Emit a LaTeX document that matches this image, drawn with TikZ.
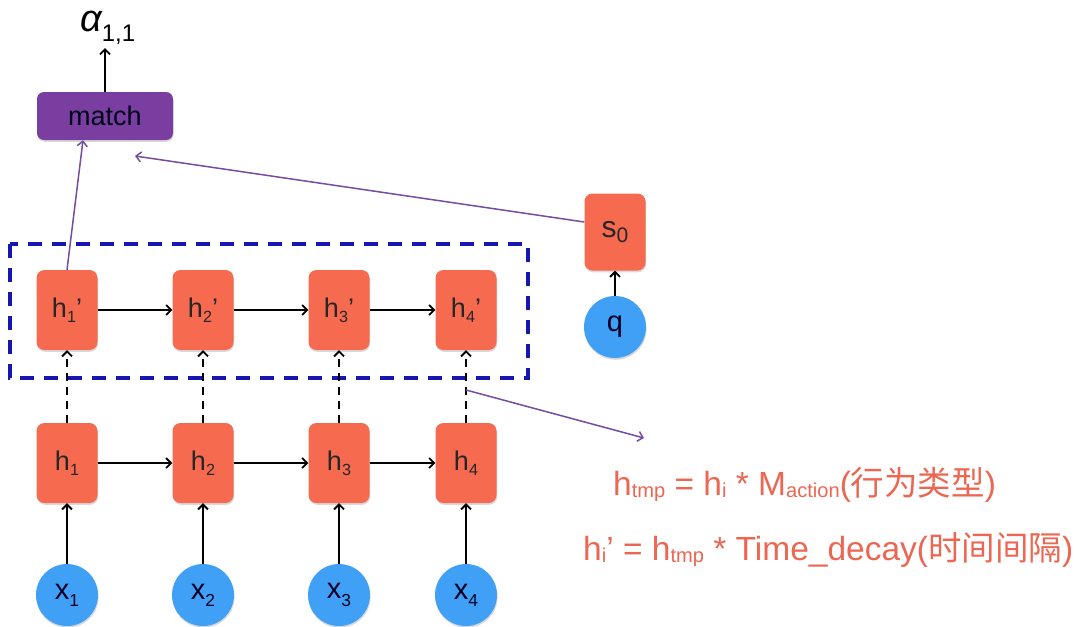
\documentclass[tikz,border=0pt]{standalone}
\usepackage{fontspec}
\usepackage{graphicx}
\setmainfont{Liberation Sans}
\newfontfamily\cjk{Noto Sans CJK SC}
\usetikzlibrary{arrows.meta,shadows}

\definecolor{cellred}{RGB}{246,106,80}
\definecolor{inblue}{RGB}{64,160,246}
\definecolor{matchpurple}{RGB}{122,62,160}
\definecolor{linkpurple}{RGB}{118,76,160}
\definecolor{boxblue}{RGB}{22,22,176}
\definecolor{eqred}{RGB}{236,102,82}

% lowered, shrunk index
\newcommand\lo[2][0.2em]{\raisebox{-#1}{\scalebox{0.6}{#2}}}

\begin{document}
\begin{tikzpicture}[
  x=1pt, y=-1pt,
  soft/.style={drop shadow={shadow xshift=0.6pt,shadow yshift=-1.8pt,opacity=0.25,fill=black!60}},
  cell/.style={fill=cellred,rounded corners=8pt,minimum width=61pt,minimum height=80pt,soft,
               inner sep=0pt,text=black!85,font=\fontsize{27}{27}\selectfont},
  inp/.style={circle,fill=inblue,minimum size=62pt,inner sep=0pt,soft,
              text=black!85!blue,font=\fontsize{29}{29}\selectfont},
  arr/.style={-{Straight Barb[length=5pt,width=10pt]},line width=1.8pt,black},
  darr/.style={arr,dash pattern=on 8pt off 6pt},
  parr/.style={-{Straight Barb[length=5pt,width=10pt]},line width=1.5pt,linkpurple},
  eq/.style={anchor=base west,inner sep=0pt,text=eqred,font=\fontsize{33.5}{33.5}\selectfont}]

\useasboundingbox (0,0) rectangle (1080,627);

\node[anchor=base west,inner sep=0pt,text height=0.55em] (alpha) at (80,31)
  {{\fontsize{38}{38}\selectfont\itshape α}\raisebox{-10pt}{\fontsize{24}{24}\selectfont 1,1}};
\coordinate (atip) at (105,48);
\node[fill=matchpurple,rounded corners=7pt,minimum width=136pt,minimum height=48pt,soft,
      text=black!90!blue,font=\fontsize{27}{27}\selectfont] (match) at (105,116) {match};
\draw[arr] (match.north) -- (atip);

\draw[boxblue,line width=4pt,dash pattern=on 14pt off 10pt] (10,244) rectangle (528,378);

\node[cell] (h1p) at ( 67,310) {h\lo{1}’};
\node[cell] (h2p) at (203,310) {h\lo{2}’};
\node[cell] (h3p) at (339,310) {h\lo{3}’};
\node[cell] (h4p) at (466,310) {h\lo{4}’};
\draw[arr] (h1p) -- (h2p);
\draw[arr] (h2p) -- (h3p);
\draw[arr] (h3p) -- (h4p);

\node[cell] (h1) at ( 67,463) {h\lo{1}};
\node[cell] (h2) at (203,463) {h\lo{2}};
\node[cell] (h3) at (339,463) {h\lo{3}};
\node[cell] (h4) at (466,463) {h\lo{4}};
\draw[arr] (h1) -- (h2);
\draw[arr] (h2) -- (h3);
\draw[arr] (h3) -- (h4);

\draw[darr] (h1) -- (h1p);
\draw[darr] (h2) -- (h2p);
\draw[darr] (h3) -- (h3p);
\draw[darr] (h4) -- (h4p);

\node[inp] (x1) at ( 67,595) {x\lo[0.25em]{1}};
\node[inp] (x2) at (203,595) {x\lo[0.25em]{2}};
\node[inp] (x3) at (339,595) {x\lo[0.25em]{3}};
\node[inp] (x4) at (466,595) {x\lo[0.25em]{4}};
\draw[arr] (x1) -- (h1);
\draw[arr] (x2) -- (h2);
\draw[arr] (x3) -- (h3);
\draw[arr] (x4) -- (h4);

\node[cell,minimum height=77pt,font=\fontsize{30}{30}\selectfont] (s0) at (615,232) {s\raisebox{-0.17em}{\scalebox{0.7}{0}}};
\node[inp] (q) at (615,327) {q};
\draw[arr] (q) -- (s0);

\coordinate (mtip) at (135,156);
\draw[parr] (h1p.north) -- ([xshift=-22pt]match.south);
\draw[parr] ([yshift=10pt]s0.west) -- (mtip);

\coordinate (tap) at (466,390);
\coordinate (ftip) at (644,438);
\draw[parr] (tap) -- (ftip);

\node[eq] (f1) at (613,495) {h\lo[0.08em]{tmp} = h\lo[0.08em]{i} * M\lo[0.08em]{action}({\cjk 行为类型})};
\node[eq] (f2) at (583,560) {h\lo[0.08em]{i}’ = h\lo[0.08em]{tmp} * Time\_decay({\cjk 时间间隔})};
\end{tikzpicture}
\end{document}
